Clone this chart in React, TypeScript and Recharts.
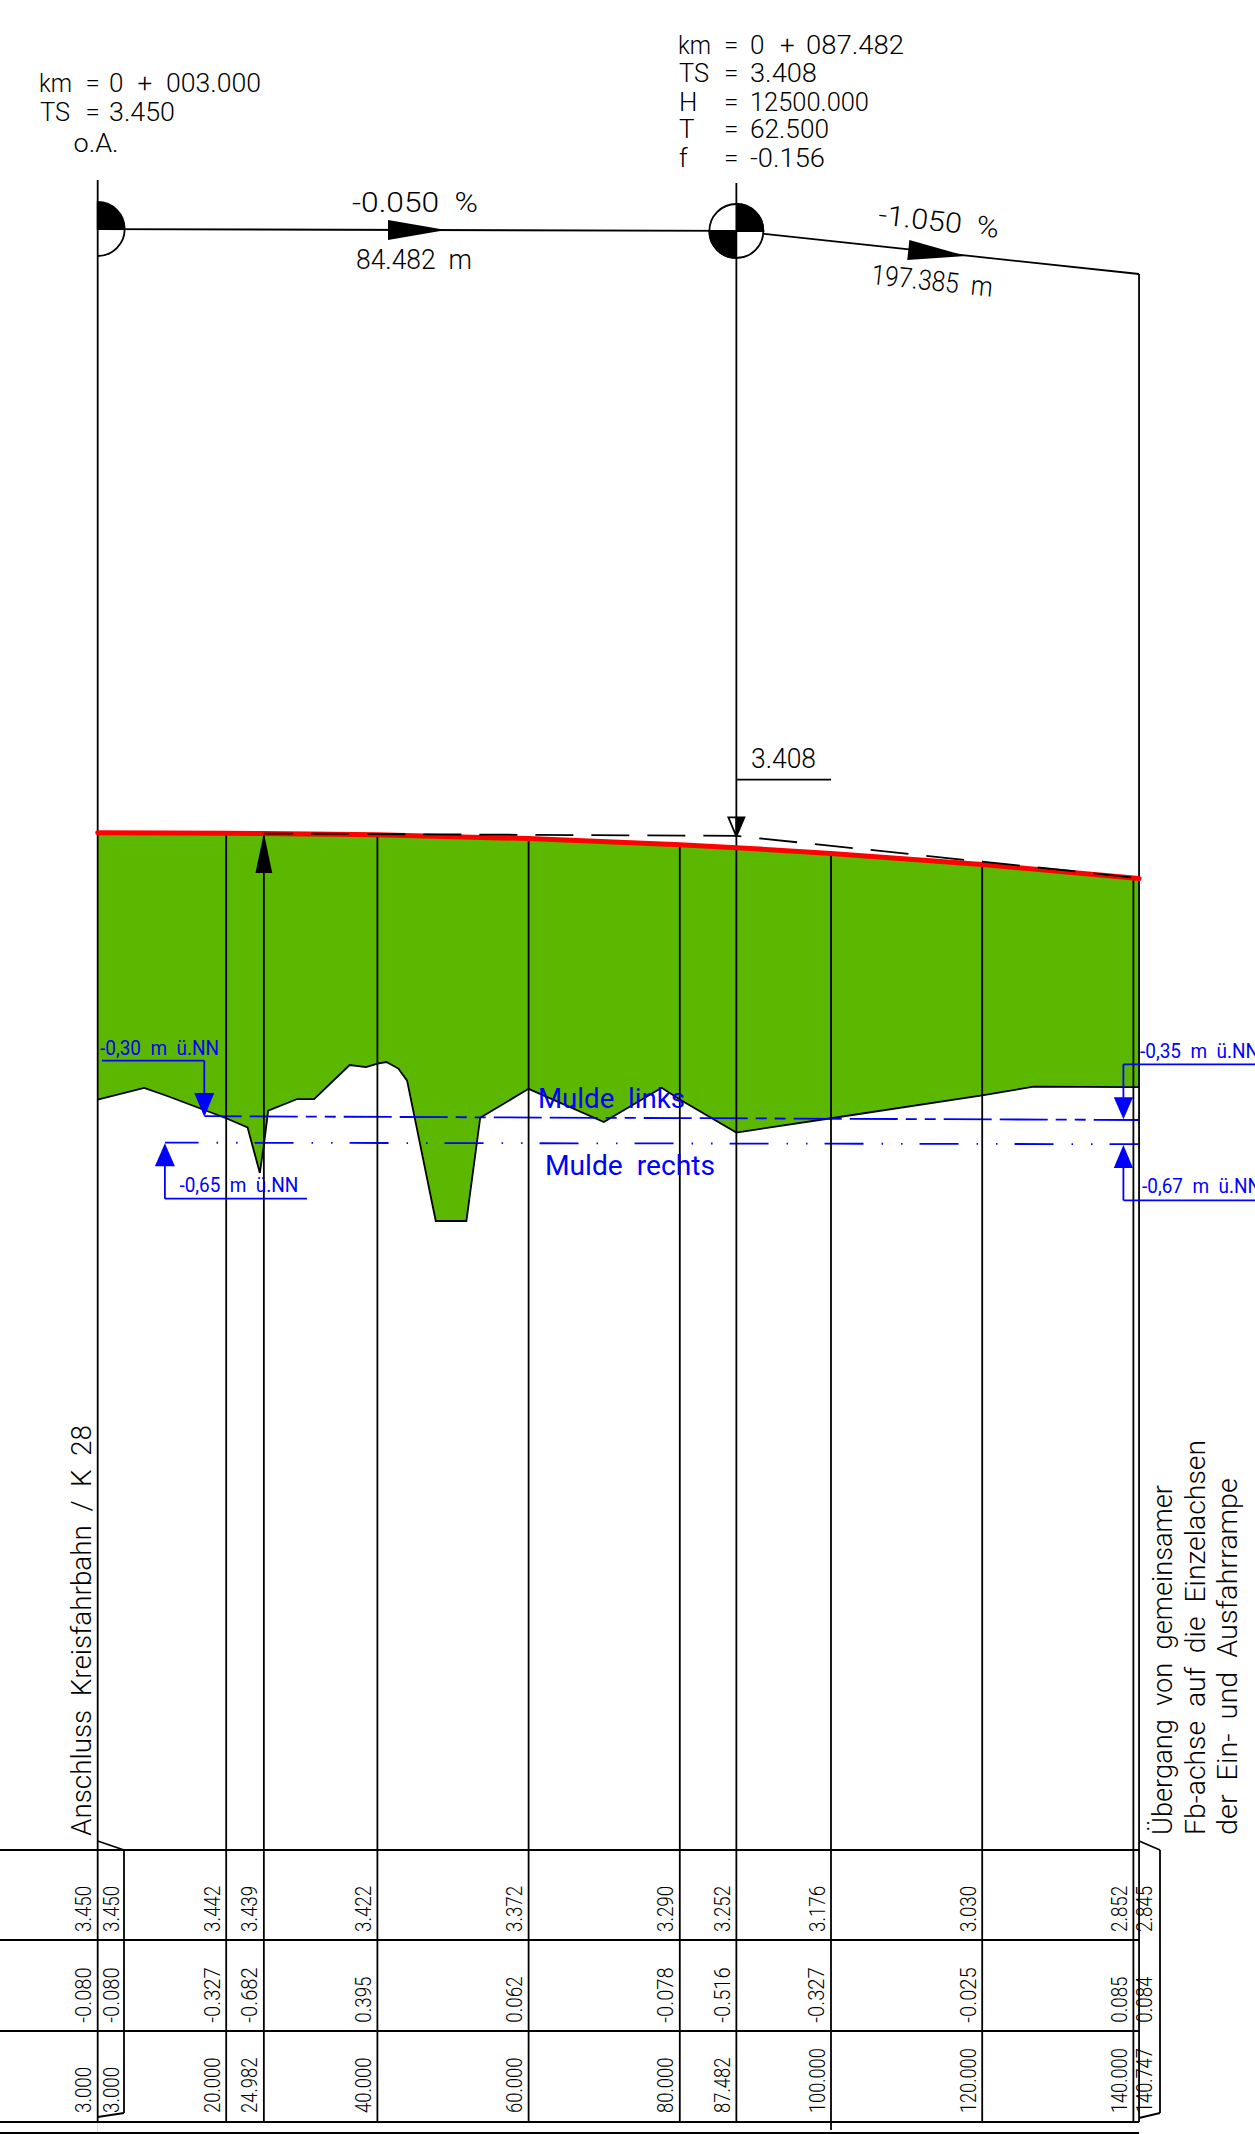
import React from 'react';
import { Area, ComposedChart, Line, ReferenceDot, ReferenceLine, XAxis, YAxis } from 'recharts';

// stations (m) and heights (m) as printed in the table at the foot of the drawing
const STATIONS = [3, 20, 24.982, 40, 60, 80, 87.482, 100, 120, 140, 140.747];
const STATION_LABELS = ['3.000', '20.000', '24.982', '40.000', '60.000', '80.000', '87.482', '100.000', '120.000', '140.000', '140.747'];
const DESIGN_LEVELS = [3.45, 3.442, 3.439, 3.422, 3.372, 3.29, 3.252, 3.176, 3.03, 2.852, 2.845];
const DESIGN_LABELS = ['3.450', '3.442', '3.439', '3.422', '3.372', '3.290', '3.252', '3.176', '3.030', '2.852', '2.845'];
const GROUND_LABELS = ['-0.080', '-0.327', '-0.682', '0.395', '0.062', '-0.078', '-0.516', '-0.327', '-0.025', '0.085', '0.084'];

// existing ground
const GROUND_STATIONS = [3, 9.15, 12.2, 20, 22.82, 24.45, 24.982, 25.55, 29.4, 31.63, 36.33, 38.5, 40, 41.2, 42.77, 43.93, 47.72, 51.77, 53.6, 60, 69.95, 77.6, 80, 87.482, 100, 120, 126.8, 140, 140.747];
const GROUND_LEVELS = [-0.08, 0.073, -0.033, -0.327, -0.447, -1.05, -0.682, -0.227, -0.073, -0.073, 0.377, 0.35, 0.395, 0.417, 0.33, 0.17, -1.686, -1.686, -0.32, 0.062, -0.377, 0.077, -0.078, -0.516, -0.327, -0.025, 0.09, 0.085, 0.084];

const TANGENT_STATIONS = [24.982, 87.482, 140.747];
const TANGENT_LEVELS = [3.439, 3.408, 2.849];

// gradient diagram above the profile, on the same axis
const GRADIENT_STATIONS = [3, 87.482, 140.747];
const GRADIENT_LEVELS = [11.435, 11.41, 10.84];

const SWALE_LEFT_STATIONS = [17.16, 140.747];
const SWALE_LEFT_LEVELS = [-0.3, -0.35];
const SWALE_RIGHT_STATIONS = [11.9, 140.747];
const SWALE_RIGHT_LEVELS = [-0.65, -0.67];

const toRows = (xs: number[], ys: number[]) => xs.map((x, i) => ({ x, y: ys[i] }));

const W = 1255;
const H = 2134;
const BLACK = '#000';
const BLUE = '#0000ff';
const GREEN = '#5cb700';
const FONT = 'Roboto, sans-serif';
const LINE_W = 1.8;

// drawing scale: 7.56 px per m along, 75.6 px per m in height
const stationAt = (px: number) => (px - 75) / 7.56;
const levelAt = (py: number) => 3.45 + (832.7 - py) / 75.6;
const X_DOMAIN = [stationAt(0), stationAt(W)];
const Y_DOMAIN = [levelAt(H), levelAt(0)];

const TABLE_TOP = 1850;
const TABLE_BOTTOM = 2122;
const TABLE_RULES = [1850, 1940, 2031, 2122, 2133];

type TextOpts = { size?: number; len?: number; fill?: string; angle?: number };

const note = (text: string, px: number, py: number, o: TextOpts = {}) => (
  <ReferenceDot
    key={`${text}-${px}-${py}`}
    x={stationAt(px)}
    y={levelAt(py)}
    r={0}
    shape={(p: any) => (
      <text
        x={p.cx}
        y={p.cy}
        fontFamily={FONT}
        fontWeight={o.fill === BLUE ? 400 : 300}
        fontSize={o.size ?? 26}
        fill={o.fill ?? BLACK}
        textLength={o.len}
        lengthAdjust="spacingAndGlyphs"
        style={{ whiteSpace: 'pre' }}
        transform={o.angle ? `rotate(${o.angle} ${p.cx} ${p.cy})` : undefined}
      >
        {text}
      </text>
    )}
  />
);

const glyph = (id: string, px: number, py: number, draw: (cx: number, cy: number) => React.ReactElement) => (
  <ReferenceDot key={id} x={stationAt(px)} y={levelAt(py)} r={0} shape={(p: any) => draw(p.cx, p.cy)} />
);

const seg = (x1: number, y1: number, x2: number, y2: number, color = BLACK, w = LINE_W) => (
  <ReferenceLine
    key={`${x1}-${y1}-${x2}-${y2}`}
    segment={[
      { x: stationAt(x1), y: levelAt(y1) },
      { x: stationAt(x2), y: levelAt(y2) },
    ]}
    stroke={color}
    strokeWidth={w}
  />
);

const arrow = (id: string, px: number, py: number, halfW: number, len: number, color: string, rot = 0) =>
  glyph(id, px, py, (cx, cy) => (
    <polygon
      points={`${cx},${cy} ${cx - halfW},${cy + len} ${cx + halfW},${cy + len}`}
      fill={color}
      transform={rot ? `rotate(${rot} ${cx} ${cy})` : undefined}
    />
  ));

const tableColumn = (labels: string[], bottom: number) =>
  labels.map((label, i) => {
    const px = 75 + STATIONS[i] * 7.56;
    const off = i === labels.length - 1 ? 13 : -6.5;
    return note(label, px + off, bottom, { size: 22.5, len: label.length * 9.25, angle: -90 });
  });

export default function App() {
  const stationPx = STATIONS.map((s) => 75 + s * 7.56);
  const designPy = DESIGN_LEVELS.map((l) => 832.7 + (3.45 - l) * 75.6);

  return (
    <div style={{ position: 'absolute', left: 0, top: 0, width: W, height: H, background: '#fff' }}>
      <ComposedChart width={W} height={H} margin={{ top: 0, right: 0, bottom: 0, left: 0 }}>
        <XAxis type="number" dataKey="x" domain={X_DOMAIN} allowDataOverflow hide />
        <YAxis type="number" domain={Y_DOMAIN} allowDataOverflow hide />

        {/* green body: fill under the design line, then mask below the ground */}
        <Area data={toRows(STATIONS, DESIGN_LEVELS)} dataKey="y" baseValue={Y_DOMAIN[0]} type="linear" stroke="none" fill={GREEN} fillOpacity={1} dot={false} activeDot={false} isAnimationActive={false} />
        <Area data={toRows(GROUND_STATIONS, GROUND_LEVELS)} dataKey="y" baseValue={Y_DOMAIN[0]} type="linear" stroke="none" fill="#fff" fillOpacity={1} dot={false} activeDot={false} isAnimationActive={false} />

        <Line data={toRows(GROUND_STATIONS, GROUND_LEVELS)} dataKey="y" type="linear" stroke={BLACK} strokeWidth={LINE_W} dot={false} activeDot={false} isAnimationActive={false} />
        <Line data={toRows(GRADIENT_STATIONS, GRADIENT_LEVELS)} dataKey="y" type="linear" stroke={BLACK} strokeWidth={LINE_W} dot={false} activeDot={false} isAnimationActive={false} />
        <Line data={toRows(SWALE_LEFT_STATIONS, SWALE_LEFT_LEVELS)} dataKey="y" type="linear" stroke={BLUE} strokeWidth={LINE_W} strokeDasharray="48 8 48 8 11 8 11 8" strokeDashoffset={11} dot={false} activeDot={false} isAnimationActive={false} />
        <Line data={toRows(SWALE_RIGHT_STATIONS, SWALE_RIGHT_LEVELS)} dataKey="y" type="linear" stroke={BLUE} strokeWidth={LINE_W} strokeDasharray="39 18 1.5 18 1.5 17" strokeDashoffset={5.4} dot={false} activeDot={false} isAnimationActive={false} />

        {/* station verticals */}
        {stationPx.map((px, i) => seg(px, i === 0 ? 180 : i === 6 ? 183 : i === 10 ? 274 : designPy[i], px, TABLE_BOTTOM))}
        {seg(stationPx[7], TABLE_BOTTOM, stationPx[7], 2130)}

        <Line data={toRows(STATIONS, DESIGN_LEVELS)} dataKey="y" type="linear" stroke="#ff0000" strokeWidth={5} strokeLinecap="round" dot={false} activeDot={false} isAnimationActive={false} />
        <Line data={toRows(TANGENT_STATIONS, TANGENT_LEVELS)} dataKey="y" type="linear" stroke={BLACK} strokeWidth={LINE_W} strokeDasharray="38 18" strokeDashoffset={8.5} dot={false} activeDot={false} isAnimationActive={false} />

        {/* table frame */}
        {TABLE_RULES.map((py) => seg(0, py, stationPx[10], py))}
        {seg(stationPx[0], 1841, 124, TABLE_TOP)}
        {seg(124, TABLE_TOP, 124, 2113)}
        {seg(124, 2113, stationPx[0], 2117)}
        {seg(stationPx[10], 1841, 1160, TABLE_TOP)}
        {seg(1160, TABLE_TOP, 1160, 2113)}
        {seg(1160, 2113, stationPx[10], 2118)}

        {tableColumn(DESIGN_LABELS, 1932)}
        {tableColumn(GROUND_LABELS, 2022.7)}
        {tableColumn(STATION_LABELS, 2113)}
        {note(DESIGN_LABELS[0], 119, 1932, { size: 22.5, len: 46.25, angle: -90 })}
        {note(GROUND_LABELS[0], 119, 2022.7, { size: 22.5, len: 55.5, angle: -90 })}
        {note(STATION_LABELS[0], 119, 2113, { size: 22.5, len: 46.25, angle: -90 })}

        {/* head block, left */}
        {note('km', 39, 91.7, { len: 33 })}
        {note('=', 85.6, 91.7)}
        {note('0', 109, 91.7)}
        {note('+', 137.6, 91.7)}
        {note('003.000', 166, 91.7, { len: 95 })}
        {note('TS', 40, 120.7, { len: 30 })}
        {note('=', 85.6, 120.7)}
        {note('3.450', 109, 120.7, { len: 66 })}
        {note('o.A.', 73.6, 151.7, { len: 45 })}

        {/* head block, right */}
        {note('km', 678, 54, { len: 33 })}
        {note('=', 724, 54)}
        {note('0', 750, 54)}
        {note('+', 780, 54)}
        {note('087.482', 806, 54, { len: 98 })}
        {note('TS', 679, 82.3, { len: 30 })}
        {note('=', 724, 82.3)}
        {note('3.408', 750, 82.3, { len: 67 })}
        {note('H', 679, 110.7)}
        {note('=', 724, 110.7)}
        {note('12500.000', 750, 110.7, { len: 119 })}
        {note('T', 679, 138.3)}
        {note('=', 724, 138.3)}
        {note('62.500', 750, 138.3, { len: 79 })}
        {note('f', 679, 166.7)}
        {note('=', 724, 166.7)}
        {note('-0.156', 750, 166.7, { len: 75 })}

        {/* gradient diagram */}
        {glyph('circle-a', stationPx[0], 229, (cx, cy) => (
          <g stroke={BLACK} strokeWidth={LINE_W}>
            <path d={`M${cx},${cy - 27} A27,27 0 0 1 ${cx + 27},${cy} L${cx},${cy} Z`} fill={BLACK} />
            <path d={`M${cx + 27},${cy} A27,27 0 0 1 ${cx},${cy + 27}`} fill="none" />
          </g>
        ))}
        {glyph('circle-b', stationPx[6], 231, (cx, cy) => (
          <g stroke={BLACK} strokeWidth={LINE_W}>
            <circle cx={cx} cy={cy} r={27} fill="#fff" />
            <path d={`M${cx},${cy - 27} A27,27 0 0 1 ${cx + 27},${cy} L${cx},${cy} Z`} fill={BLACK} />
            <path d={`M${cx},${cy + 27} A27,27 0 0 1 ${cx - 27},${cy} L${cx},${cy} Z`} fill={BLACK} />
          </g>
        ))}
        {arrow('slope-a', 446, 230, 10, 58, BLACK, 90)}
        {arrow('slope-b', 966, 256, 10, 58, BLACK, 96)}
        {note('-0.050  %', 352, 212, { size: 28, len: 126 })}
        {note('84.482  m', 356, 268.7, { size: 28, len: 116 })}
        {note('-1.050  %', 877.6, 224, { size: 28, len: 121, angle: 6.5 })}
        {note('197.385  m', 870.4, 284, { size: 28, len: 122, angle: 6 })}

        {/* crest marker */}
        {seg(stationPx[6], 779.7, 831, 779.7)}
        {note('3.408', 751, 767.7, { size: 28, len: 65 })}
        {glyph('crest', stationPx[6], 836.3, (cx, cy) => (
          <g stroke={BLACK} strokeWidth={LINE_W}>
            <polygon points={`${cx},${cy} ${cx - 8},${cy - 19} ${cx},${cy - 19}`} fill="#fff" />
            <polygon points={`${cx},${cy} ${cx + 8},${cy - 19} ${cx},${cy - 19}`} fill={BLACK} />
          </g>
        ))}
        {arrow('up', stationPx[2], 833, 8.4, 40, BLACK)}

        {/* swale dimensions */}
        {seg(102, 1060.7, 204.3, 1060.7, BLUE)}
        {seg(204.3, 1060.7, 204.3, 1095, BLUE)}
        {arrow('sw-a', 204.3, 1117, 10, 24, BLUE, 180)}
        {note('-0,30  m  ü.NN', 100, 1055, { size: 21, len: 119, fill: BLUE })}
        {seg(164.9, 1165, 164.9, 1198.7, BLUE)}
        {seg(164.9, 1198.7, 307, 1198.7, BLUE)}
        {arrow('sw-b', 164.9, 1143.3, 10, 23, BLUE)}
        {note('-0,65  m  ü.NN', 179.4, 1191.7, { size: 21, len: 119, fill: BLUE })}
        {seg(1123.4, 1064.3, 1255, 1064.3, BLUE)}
        {seg(1123.4, 1064.3, 1123.4, 1098, BLUE)}
        {arrow('sw-c', 1123.4, 1119.3, 9.6, 22, BLUE, 180)}
        {note('-0,35  m  ü.NN', 1140, 1057.7, { size: 21, len: 119, fill: BLUE })}
        {seg(1123.4, 1166, 1123.4, 1200.3, BLUE)}
        {seg(1123.4, 1200.3, 1255, 1200.3, BLUE)}
        {arrow('sw-d', 1123.4, 1145, 9.6, 23, BLUE)}
        {note('-0,67  m  ü.NN', 1142, 1193, { size: 21, len: 119, fill: BLUE })}
        {note('Mulde  links', 538, 1108, { size: 28, len: 147, fill: BLUE })}
        {note('Mulde  rechts', 545, 1175, { size: 28, len: 170, fill: BLUE })}

        {/* vertical captions */}
        {note('Anschluss  Kreisfahrbahn  /  K  28', 91, 1836, { size: 28, len: 411, angle: -90 })}
        {note('Übergang  von  gemeinsamer', 1171.7, 1835, { size: 28, len: 350, angle: -90 })}
        {note('Fb-achse  auf  die  Einzelachsen', 1205, 1835, { size: 28, len: 395, angle: -90 })}
        {note('der  Ein-  und  Ausfahrrampe', 1236.7, 1835, { size: 28, len: 357, angle: -90 })}
      </ComposedChart>
    </div>
  );
}
